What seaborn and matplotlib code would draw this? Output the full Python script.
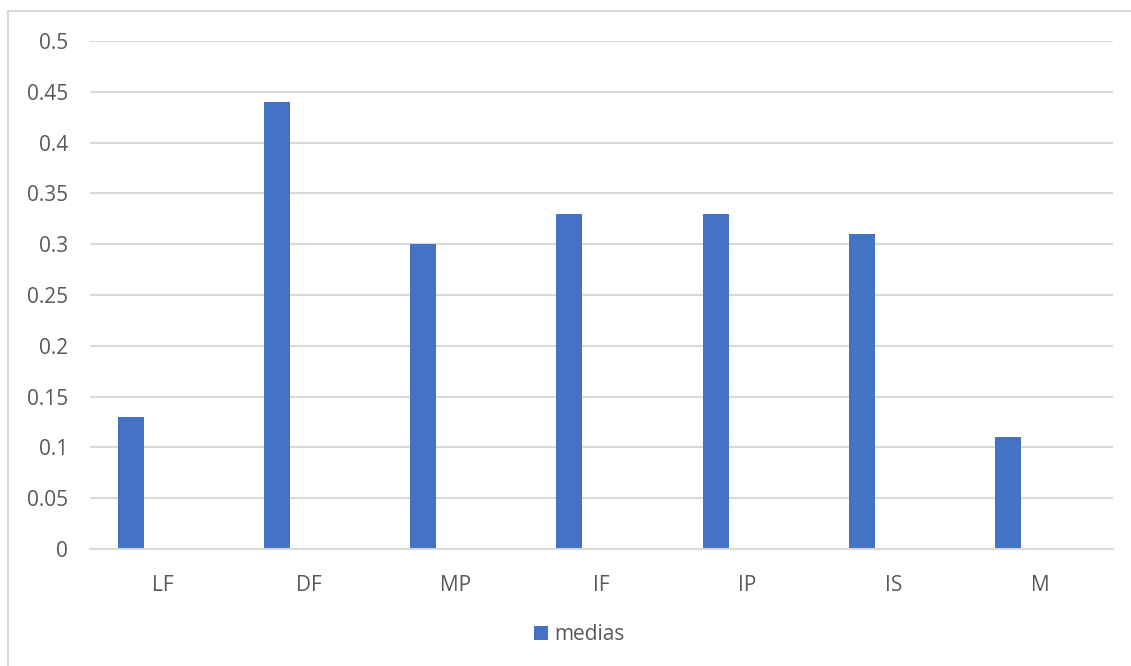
import matplotlib
matplotlib.use("Agg")
import matplotlib.pyplot as plt
from matplotlib.patches import Rectangle, Patch
import numpy as np
import pandas as pd
import seaborn as sns

categories = ["LF", "DF", "MP", "IF", "IP", "IS", "M"]
medias = [0.13, 0.44, 0.30, 0.33, 0.33, 0.31, 0.11]
series_name = "medias"
y_ticks = [0, 0.05, 0.1, 0.15, 0.2, 0.25, 0.3, 0.35, 0.4, 0.45, 0.5]
y_tick_labels = ["0", "0.05", "0.1", "0.15", "0.2", "0.25", "0.3", "0.35", "0.4", "0.45", "0.5"]

bar_color = "#4472C4"
grid_color = "#D9D9D9"
text_color = "#595959"

# clustered layout: an empty second slot keeps each bar left of its category centre
df = pd.DataFrame({
    "cat": categories * 2,
    "value": medias + [np.nan] * len(categories),
    "series": [series_name] * len(categories) + ["_empty"] * len(categories),
})

sns.set_theme(style="white")
plt.rcParams["font.family"] = ["Open Sans", "DejaVu Sans"]

fig = plt.figure(figsize=(11.31, 6.66), dpi=100)
ax = fig.add_axes([0.0796, 0.1757, 0.9044, 0.7627])

sns.barplot(
    data=df, x="cat", y="value", hue="series",
    order=categories, hue_order=[series_name, "_empty"],
    palette=[bar_color, bar_color], width=0.876, gap=0.594,
    errorbar=None, legend=False, ax=ax, saturation=1, linewidth=0,
)

ax.set_ylim(0, 0.5)
ax.set_yticks(y_ticks)
ax.set_yticklabels(y_tick_labels)
ax.set_xlabel("")
ax.set_ylabel("")
ax.yaxis.grid(True, color=grid_color, linewidth=1.5)
ax.set_axisbelow(True)
for side in ["top", "right", "left"]:
    ax.spines[side].set_visible(False)
ax.spines["bottom"].set_color(grid_color)
ax.spines["bottom"].set_linewidth(1.5)
ax.tick_params(axis="y", length=0, pad=16, labelsize=15, labelcolor=text_color)
ax.tick_params(axis="x", length=0, pad=19, labelsize=15, labelcolor=text_color)

fig.legend(
    handles=[Patch(facecolor=bar_color, edgecolor="none", label=series_name)],
    loc="center", bbox_to_anchor=(0.512, 0.047), frameon=False,
    fontsize=15, labelcolor=text_color, handlelength=0.65, handleheight=0.65,
    handletextpad=0.3,
)

# chart area border
fig.patches.append(Rectangle((8 / 1131, -0.01), 1.02, 1 - 11 / 666 + 0.01,
                             transform=fig.transFigure, fill=False,
                             edgecolor=grid_color, linewidth=1.5))

fig.savefig("out.png", dpi=100, facecolor="white")
